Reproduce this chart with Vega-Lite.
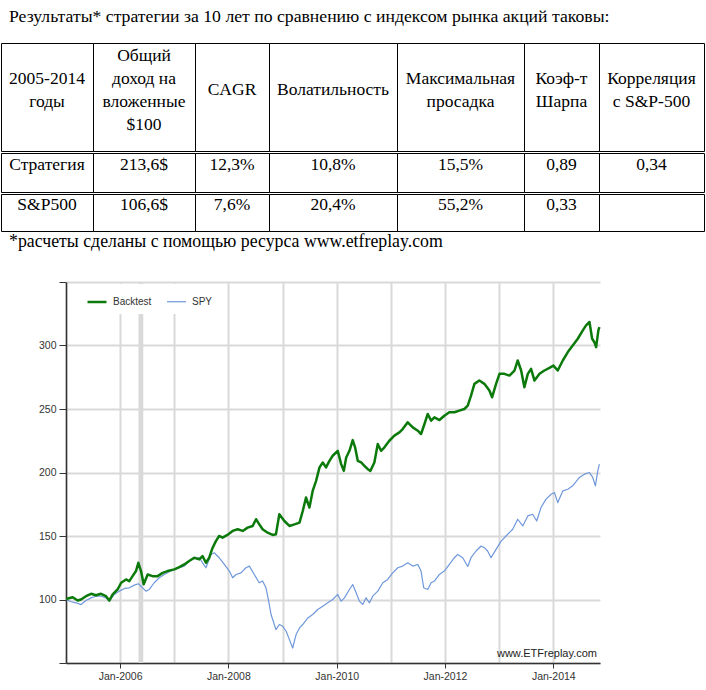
{
  "$schema": "https://vega.github.io/schema/vega-lite/v6.json",
  "padding": {"left": 0, "top": 7, "right": 0, "bottom": 0},
  "background": "white",
  "title": {"text": "Результаты* стратегии за 10 лет по сравнению с индексом рынка акций таковы:", "anchor": "start", "frame": "group", "font": "Liberation Serif", "fontSize": 17.7, "fontWeight": "normal", "color": "#000", "dx": 8, "offset": 17},
  "config": {"view": {"stroke": null}, "font": "Liberation Sans"},
  "resolve": {"scale": {"color": "independent", "strokeWidth": "independent"}, "legend": {"color": "independent", "strokeWidth": "independent"}},
  "datasets": {
    "cells": [
      {"r": 0, "c": 0, "t": "2005-2014\nгоды"},
      {"r": 0, "c": 1, "t": "Общий\nдоход на\nвложенные\n$100"},
      {"r": 0, "c": 2, "t": "CAGR"},
      {"r": 0, "c": 3, "t": "Волатильность"},
      {"r": 0, "c": 4, "t": "Максимальная\nпросадка"},
      {"r": 0, "c": 5, "t": "Коэф-т\nШарпа"},
      {"r": 0, "c": 6, "t": "Корреляция\nс S&P-500"},
      {"r": 1, "c": 0, "t": "Стратегия"},
      {"r": 1, "c": 1, "t": "213,6$"},
      {"r": 1, "c": 2, "t": "12,3%"},
      {"r": 1, "c": 3, "t": "10,8%"},
      {"r": 1, "c": 4, "t": "15,5%"},
      {"r": 1, "c": 5, "t": "0,89"},
      {"r": 1, "c": 6, "t": "0,34"},
      {"r": 2, "c": 0, "t": "S&P500"},
      {"r": 2, "c": 1, "t": "106,6$"},
      {"r": 2, "c": 2, "t": "7,6%"},
      {"r": 2, "c": 3, "t": "20,4%"},
      {"r": 2, "c": 4, "t": "55,2%"},
      {"r": 2, "c": 5, "t": "0,33"},
      {"r": 2, "c": 6, "t": ""}
    ],
    "band": [{"d": "2006-05-05", "d2": "2006-06-06"}],
    "perf": [
      {"d": "2005-01-03", "s": "SPY", "v": 100},
      {"d": "2005-02-04", "s": "SPY", "v": 98.2},
      {"d": "2005-03-10", "s": "SPY", "v": 97.4},
      {"d": "2005-04-12", "s": "SPY", "v": 96},
      {"d": "2005-05-16", "s": "SPY", "v": 99.2},
      {"d": "2005-06-19", "s": "SPY", "v": 101.3},
      {"d": "2005-07-22", "s": "SPY", "v": 102.6},
      {"d": "2005-08-25", "s": "SPY", "v": 102.6},
      {"d": "2005-09-28", "s": "SPY", "v": 101.3},
      {"d": "2005-10-20", "s": "SPY", "v": 98.7},
      {"d": "2005-11-23", "s": "SPY", "v": 104},
      {"d": "2005-12-27", "s": "SPY", "v": 106.6},
      {"d": "2006-01-30", "s": "SPY", "v": 108.7},
      {"d": "2006-03-04", "s": "SPY", "v": 109.2},
      {"d": "2006-04-07", "s": "SPY", "v": 111.3},
      {"d": "2006-05-04", "s": "SPY", "v": 112.4},
      {"d": "2006-06-02", "s": "SPY", "v": 109.2},
      {"d": "2006-06-24", "s": "SPY", "v": 106.6},
      {"d": "2006-07-17", "s": "SPY", "v": 107.9},
      {"d": "2006-08-19", "s": "SPY", "v": 113.2},
      {"d": "2006-09-22", "s": "SPY", "v": 117.1},
      {"d": "2006-10-26", "s": "SPY", "v": 119.7},
      {"d": "2006-11-28", "s": "SPY", "v": 121.8},
      {"d": "2007-01-02", "s": "SPY", "v": 123.7},
      {"d": "2007-02-04", "s": "SPY", "v": 125},
      {"d": "2007-03-10", "s": "SPY", "v": 126.3},
      {"d": "2007-04-12", "s": "SPY", "v": 130.3},
      {"d": "2007-05-16", "s": "SPY", "v": 132.4},
      {"d": "2007-06-19", "s": "SPY", "v": 132.9},
      {"d": "2007-07-11", "s": "SPY", "v": 128.9},
      {"d": "2007-08-03", "s": "SPY", "v": 125},
      {"d": "2007-09-06", "s": "SPY", "v": 135.5},
      {"d": "2007-09-28", "s": "SPY", "v": 136.8},
      {"d": "2007-10-31", "s": "SPY", "v": 132.9},
      {"d": "2007-12-05", "s": "SPY", "v": 127.6},
      {"d": "2008-01-08", "s": "SPY", "v": 122.4},
      {"d": "2008-01-30", "s": "SPY", "v": 117.1},
      {"d": "2008-02-22", "s": "SPY", "v": 119.7},
      {"d": "2008-03-26", "s": "SPY", "v": 121},
      {"d": "2008-04-29", "s": "SPY", "v": 125},
      {"d": "2008-05-22", "s": "SPY", "v": 126.3},
      {"d": "2008-06-24", "s": "SPY", "v": 119.7},
      {"d": "2008-07-28", "s": "SPY", "v": 113.2},
      {"d": "2008-08-19", "s": "SPY", "v": 114.5},
      {"d": "2008-09-11", "s": "SPY", "v": 109.2},
      {"d": "2008-09-29", "s": "SPY", "v": 98.7},
      {"d": "2008-10-15", "s": "SPY", "v": 88.2},
      {"d": "2008-10-30", "s": "SPY", "v": 82.9},
      {"d": "2008-11-17", "s": "SPY", "v": 76.3},
      {"d": "2008-12-10", "s": "SPY", "v": 80.3},
      {"d": "2009-01-02", "s": "SPY", "v": 78.9},
      {"d": "2009-01-25", "s": "SPY", "v": 75},
      {"d": "2009-02-16", "s": "SPY", "v": 68.4},
      {"d": "2009-03-10", "s": "SPY", "v": 61.8},
      {"d": "2009-04-02", "s": "SPY", "v": 72.4},
      {"d": "2009-04-25", "s": "SPY", "v": 77.6},
      {"d": "2009-05-17", "s": "SPY", "v": 80.3},
      {"d": "2009-06-20", "s": "SPY", "v": 85.5},
      {"d": "2009-07-23", "s": "SPY", "v": 88.2},
      {"d": "2009-08-26", "s": "SPY", "v": 92.1},
      {"d": "2009-09-29", "s": "SPY", "v": 94.7},
      {"d": "2009-11-02", "s": "SPY", "v": 97.4},
      {"d": "2009-12-05", "s": "SPY", "v": 100},
      {"d": "2010-01-08", "s": "SPY", "v": 104},
      {"d": "2010-01-31", "s": "SPY", "v": 98.7},
      {"d": "2010-02-22", "s": "SPY", "v": 101.3},
      {"d": "2010-03-28", "s": "SPY", "v": 107.9},
      {"d": "2010-04-19", "s": "SPY", "v": 111.8},
      {"d": "2010-05-12", "s": "SPY", "v": 105.3},
      {"d": "2010-06-03", "s": "SPY", "v": 98.7},
      {"d": "2010-06-26", "s": "SPY", "v": 96.1},
      {"d": "2010-07-18", "s": "SPY", "v": 101.3},
      {"d": "2010-08-10", "s": "SPY", "v": 97.4},
      {"d": "2010-09-01", "s": "SPY", "v": 102.6},
      {"d": "2010-10-05", "s": "SPY", "v": 106.6},
      {"d": "2010-11-08", "s": "SPY", "v": 113.2},
      {"d": "2010-12-11", "s": "SPY", "v": 115.8},
      {"d": "2011-01-14", "s": "SPY", "v": 121},
      {"d": "2011-02-17", "s": "SPY", "v": 125},
      {"d": "2011-03-22", "s": "SPY", "v": 126.3},
      {"d": "2011-04-25", "s": "SPY", "v": 128.9},
      {"d": "2011-05-29", "s": "SPY", "v": 126.3},
      {"d": "2011-07-02", "s": "SPY", "v": 127.6},
      {"d": "2011-07-24", "s": "SPY", "v": 122.4},
      {"d": "2011-08-11", "s": "SPY", "v": 109.2},
      {"d": "2011-09-07", "s": "SPY", "v": 107.9},
      {"d": "2011-09-30", "s": "SPY", "v": 113.2},
      {"d": "2011-10-22", "s": "SPY", "v": 114.5},
      {"d": "2011-11-25", "s": "SPY", "v": 119.7},
      {"d": "2011-12-28", "s": "SPY", "v": 122.4},
      {"d": "2012-01-31", "s": "SPY", "v": 127.6},
      {"d": "2012-03-05", "s": "SPY", "v": 132.9},
      {"d": "2012-03-27", "s": "SPY", "v": 135.5},
      {"d": "2012-04-30", "s": "SPY", "v": 132.9},
      {"d": "2012-06-03", "s": "SPY", "v": 126},
      {"d": "2012-06-25", "s": "SPY", "v": 132.9},
      {"d": "2012-07-29", "s": "SPY", "v": 138.2},
      {"d": "2012-09-01", "s": "SPY", "v": 142.1},
      {"d": "2012-09-23", "s": "SPY", "v": 140.8},
      {"d": "2012-10-15", "s": "SPY", "v": 138.2},
      {"d": "2012-11-07", "s": "SPY", "v": 132.9},
      {"d": "2012-12-11", "s": "SPY", "v": 139.5},
      {"d": "2013-01-14", "s": "SPY", "v": 146},
      {"d": "2013-02-16", "s": "SPY", "v": 150},
      {"d": "2013-04-02", "s": "SPY", "v": 155.3},
      {"d": "2013-05-06", "s": "SPY", "v": 163.2},
      {"d": "2013-06-09", "s": "SPY", "v": 157.9},
      {"d": "2013-07-13", "s": "SPY", "v": 165.8},
      {"d": "2013-08-15", "s": "SPY", "v": 167.1},
      {"d": "2013-09-11", "s": "SPY", "v": 161.8},
      {"d": "2013-10-10", "s": "SPY", "v": 172.4},
      {"d": "2013-11-13", "s": "SPY", "v": 179},
      {"d": "2013-12-17", "s": "SPY", "v": 182.9},
      {"d": "2014-01-09", "s": "SPY", "v": 184.2},
      {"d": "2014-01-31", "s": "SPY", "v": 176.3},
      {"d": "2014-03-06", "s": "SPY", "v": 185.5},
      {"d": "2014-04-09", "s": "SPY", "v": 186.8},
      {"d": "2014-05-12", "s": "SPY", "v": 189.5},
      {"d": "2014-06-26", "s": "SPY", "v": 196.1},
      {"d": "2014-07-30", "s": "SPY", "v": 198.7},
      {"d": "2014-09-02", "s": "SPY", "v": 200},
      {"d": "2014-09-24", "s": "SPY", "v": 196.1},
      {"d": "2014-10-12", "s": "SPY", "v": 189.5},
      {"d": "2014-10-28", "s": "SPY", "v": 201.3},
      {"d": "2014-11-08", "s": "SPY", "v": 206.6},
      {"d": "2005-01-03", "s": "Backtest", "v": 100},
      {"d": "2005-01-13", "s": "Backtest", "v": 100.8},
      {"d": "2005-02-15", "s": "Backtest", "v": 101.8},
      {"d": "2005-03-21", "s": "Backtest", "v": 99.2},
      {"d": "2005-04-12", "s": "Backtest", "v": 100},
      {"d": "2005-05-16", "s": "Backtest", "v": 102.6},
      {"d": "2005-06-19", "s": "Backtest", "v": 104.5},
      {"d": "2005-07-22", "s": "Backtest", "v": 103.4},
      {"d": "2005-08-25", "s": "Backtest", "v": 104.5},
      {"d": "2005-09-28", "s": "Backtest", "v": 102.6},
      {"d": "2005-10-20", "s": "Backtest", "v": 99.2},
      {"d": "2005-11-12", "s": "Backtest", "v": 104},
      {"d": "2005-12-15", "s": "Backtest", "v": 107.9},
      {"d": "2006-01-08", "s": "Backtest", "v": 113.2},
      {"d": "2006-02-10", "s": "Backtest", "v": 115.8},
      {"d": "2006-03-04", "s": "Backtest", "v": 114.5},
      {"d": "2006-03-26", "s": "Backtest", "v": 118.4},
      {"d": "2006-04-18", "s": "Backtest", "v": 122.4},
      {"d": "2006-05-04", "s": "Backtest", "v": 128.9},
      {"d": "2006-05-22", "s": "Backtest", "v": 122.4},
      {"d": "2006-06-09", "s": "Backtest", "v": 112},
      {"d": "2006-07-06", "s": "Backtest", "v": 119.7},
      {"d": "2006-08-08", "s": "Backtest", "v": 118.4},
      {"d": "2006-09-11", "s": "Backtest", "v": 118.4},
      {"d": "2006-10-15", "s": "Backtest", "v": 121},
      {"d": "2006-11-17", "s": "Backtest", "v": 122.4},
      {"d": "2007-01-02", "s": "Backtest", "v": 123.7},
      {"d": "2007-02-04", "s": "Backtest", "v": 125.5},
      {"d": "2007-03-10", "s": "Backtest", "v": 127.6},
      {"d": "2007-04-12", "s": "Backtest", "v": 130.3},
      {"d": "2007-05-16", "s": "Backtest", "v": 132.9},
      {"d": "2007-06-19", "s": "Backtest", "v": 131.6},
      {"d": "2007-07-11", "s": "Backtest", "v": 134.2},
      {"d": "2007-08-03", "s": "Backtest", "v": 128.9},
      {"d": "2007-08-25", "s": "Backtest", "v": 132.9},
      {"d": "2007-09-17", "s": "Backtest", "v": 140.8},
      {"d": "2007-10-09", "s": "Backtest", "v": 146},
      {"d": "2007-10-31", "s": "Backtest", "v": 150},
      {"d": "2007-11-23", "s": "Backtest", "v": 148.7},
      {"d": "2008-01-01", "s": "Backtest", "v": 151.3},
      {"d": "2008-01-30", "s": "Backtest", "v": 154},
      {"d": "2008-03-04", "s": "Backtest", "v": 155.3},
      {"d": "2008-04-07", "s": "Backtest", "v": 154},
      {"d": "2008-05-10", "s": "Backtest", "v": 156.6},
      {"d": "2008-06-13", "s": "Backtest", "v": 157.9},
      {"d": "2008-07-06", "s": "Backtest", "v": 163.2},
      {"d": "2008-07-28", "s": "Backtest", "v": 159.2},
      {"d": "2008-08-19", "s": "Backtest", "v": 155.3},
      {"d": "2008-09-22", "s": "Backtest", "v": 152.6},
      {"d": "2008-10-26", "s": "Backtest", "v": 150.8},
      {"d": "2008-11-17", "s": "Backtest", "v": 151.3},
      {"d": "2008-12-10", "s": "Backtest", "v": 167.1},
      {"d": "2009-01-13", "s": "Backtest", "v": 161.8},
      {"d": "2009-02-16", "s": "Backtest", "v": 157.9},
      {"d": "2009-03-22", "s": "Backtest", "v": 159.2},
      {"d": "2009-04-25", "s": "Backtest", "v": 160.5},
      {"d": "2009-05-17", "s": "Backtest", "v": 169.7},
      {"d": "2009-06-08", "s": "Backtest", "v": 180.3},
      {"d": "2009-07-01", "s": "Backtest", "v": 172.4},
      {"d": "2009-07-23", "s": "Backtest", "v": 185.5},
      {"d": "2009-08-15", "s": "Backtest", "v": 193.4},
      {"d": "2009-09-07", "s": "Backtest", "v": 204},
      {"d": "2009-09-29", "s": "Backtest", "v": 207.9},
      {"d": "2009-10-21", "s": "Backtest", "v": 204},
      {"d": "2009-11-13", "s": "Backtest", "v": 209.2},
      {"d": "2009-12-05", "s": "Backtest", "v": 213.2},
      {"d": "2010-01-08", "s": "Backtest", "v": 217.1},
      {"d": "2010-01-31", "s": "Backtest", "v": 206.6},
      {"d": "2010-02-18", "s": "Backtest", "v": 201.3},
      {"d": "2010-03-06", "s": "Backtest", "v": 211.8},
      {"d": "2010-03-28", "s": "Backtest", "v": 217.1},
      {"d": "2010-04-19", "s": "Backtest", "v": 225.5},
      {"d": "2010-05-05", "s": "Backtest", "v": 219.8},
      {"d": "2010-05-23", "s": "Backtest", "v": 209.2},
      {"d": "2010-06-15", "s": "Backtest", "v": 207.9},
      {"d": "2010-07-07", "s": "Backtest", "v": 205.3},
      {"d": "2010-07-30", "s": "Backtest", "v": 202.6},
      {"d": "2010-08-16", "s": "Backtest", "v": 201.3},
      {"d": "2010-09-12", "s": "Backtest", "v": 207.9},
      {"d": "2010-10-05", "s": "Backtest", "v": 222.4},
      {"d": "2010-10-27", "s": "Backtest", "v": 217.1},
      {"d": "2010-11-19", "s": "Backtest", "v": 219.8},
      {"d": "2010-12-22", "s": "Backtest", "v": 225},
      {"d": "2011-01-25", "s": "Backtest", "v": 229},
      {"d": "2011-02-28", "s": "Backtest", "v": 231.6},
      {"d": "2011-03-22", "s": "Backtest", "v": 234.2},
      {"d": "2011-04-25", "s": "Backtest", "v": 239.5},
      {"d": "2011-05-29", "s": "Backtest", "v": 235.5},
      {"d": "2011-07-02", "s": "Backtest", "v": 232.9},
      {"d": "2011-07-24", "s": "Backtest", "v": 230.3},
      {"d": "2011-08-16", "s": "Backtest", "v": 238.2},
      {"d": "2011-09-07", "s": "Backtest", "v": 246.1},
      {"d": "2011-09-30", "s": "Backtest", "v": 240.8},
      {"d": "2011-10-22", "s": "Backtest", "v": 243.4},
      {"d": "2011-11-25", "s": "Backtest", "v": 241.3},
      {"d": "2011-12-28", "s": "Backtest", "v": 244.7},
      {"d": "2012-01-31", "s": "Backtest", "v": 247.4},
      {"d": "2012-03-05", "s": "Backtest", "v": 247.4},
      {"d": "2012-04-07", "s": "Backtest", "v": 248.7},
      {"d": "2012-05-11", "s": "Backtest", "v": 250},
      {"d": "2012-06-03", "s": "Backtest", "v": 252.6},
      {"d": "2012-06-25", "s": "Backtest", "v": 260.5},
      {"d": "2012-07-18", "s": "Backtest", "v": 269.8},
      {"d": "2012-08-20", "s": "Backtest", "v": 272.4},
      {"d": "2012-09-23", "s": "Backtest", "v": 269.8},
      {"d": "2012-10-27", "s": "Backtest", "v": 264.5},
      {"d": "2012-11-14", "s": "Backtest", "v": 259.2},
      {"d": "2012-12-11", "s": "Backtest", "v": 269.8},
      {"d": "2013-01-03", "s": "Backtest", "v": 277.7},
      {"d": "2013-02-05", "s": "Backtest", "v": 277.7},
      {"d": "2013-03-11", "s": "Backtest", "v": 276.3},
      {"d": "2013-04-14", "s": "Backtest", "v": 280.3},
      {"d": "2013-05-06", "s": "Backtest", "v": 288.2},
      {"d": "2013-05-29", "s": "Backtest", "v": 280.3},
      {"d": "2013-06-20", "s": "Backtest", "v": 267.1},
      {"d": "2013-07-13", "s": "Backtest", "v": 277.7},
      {"d": "2013-08-04", "s": "Backtest", "v": 281.6},
      {"d": "2013-08-27", "s": "Backtest", "v": 272.4},
      {"d": "2013-09-30", "s": "Backtest", "v": 277.7},
      {"d": "2013-11-02", "s": "Backtest", "v": 280.3},
      {"d": "2013-12-06", "s": "Backtest", "v": 282.4},
      {"d": "2014-01-02", "s": "Backtest", "v": 284.2},
      {"d": "2014-01-31", "s": "Backtest", "v": 280.3},
      {"d": "2014-03-06", "s": "Backtest", "v": 288.2},
      {"d": "2014-04-09", "s": "Backtest", "v": 294.8},
      {"d": "2014-05-12", "s": "Backtest", "v": 300},
      {"d": "2014-06-15", "s": "Backtest", "v": 305.3},
      {"d": "2014-07-19", "s": "Backtest", "v": 311.9},
      {"d": "2014-08-10", "s": "Backtest", "v": 315.8},
      {"d": "2014-09-02", "s": "Backtest", "v": 318.5},
      {"d": "2014-09-20", "s": "Backtest", "v": 305.3},
      {"d": "2014-10-05", "s": "Backtest", "v": 302.6},
      {"d": "2014-10-17", "s": "Backtest", "v": 298.7},
      {"d": "2014-11-01", "s": "Backtest", "v": 311.9},
      {"d": "2014-11-08", "s": "Backtest", "v": 314.5}
    ]
  },
  "spacing": 0,
  "vconcat": [
    {
      "spacing": 0,
      "bounds": "flush",
      "hconcat": [
        {"width": 92, "height": 108, "view": {"stroke": "#000"}, "data": {"name": "cells"}, "transform": [{"filter": "datum.r == 0 && datum.c == 0"}], "mark": {"type": "text", "font": "Liberation Serif", "fontSize": 17.5, "color": "#000", "lineBreak": "\n", "lineHeight": 23, "dy": -18.5}, "encoding": {"text": {"field": "t", "type": "nominal"}}},
        {"width": 102, "height": 108, "view": {"stroke": "#000"}, "data": {"name": "cells"}, "transform": [{"filter": "datum.r == 0 && datum.c == 1"}], "mark": {"type": "text", "font": "Liberation Serif", "fontSize": 17.5, "color": "#000", "lineBreak": "\n", "lineHeight": 23, "dy": -41.5}, "encoding": {"text": {"field": "t", "type": "nominal"}}},
        {"width": 74, "height": 108, "view": {"stroke": "#000"}, "data": {"name": "cells"}, "transform": [{"filter": "datum.r == 0 && datum.c == 2"}], "mark": {"type": "text", "font": "Liberation Serif", "fontSize": 17.5, "color": "#000", "lineBreak": "\n", "lineHeight": 23, "dy": -7}, "encoding": {"text": {"field": "t", "type": "nominal"}}},
        {"width": 128, "height": 108, "view": {"stroke": "#000"}, "data": {"name": "cells"}, "transform": [{"filter": "datum.r == 0 && datum.c == 3"}], "mark": {"type": "text", "font": "Liberation Serif", "fontSize": 17.5, "color": "#000", "lineBreak": "\n", "lineHeight": 23, "dy": -7}, "encoding": {"text": {"field": "t", "type": "nominal"}}},
        {"width": 127, "height": 108, "view": {"stroke": "#000"}, "data": {"name": "cells"}, "transform": [{"filter": "datum.r == 0 && datum.c == 4"}], "mark": {"type": "text", "font": "Liberation Serif", "fontSize": 17.5, "color": "#000", "lineBreak": "\n", "lineHeight": 23, "dy": -18.5}, "encoding": {"text": {"field": "t", "type": "nominal"}}},
        {"width": 75, "height": 108, "view": {"stroke": "#000"}, "data": {"name": "cells"}, "transform": [{"filter": "datum.r == 0 && datum.c == 5"}], "mark": {"type": "text", "font": "Liberation Serif", "fontSize": 17.5, "color": "#000", "lineBreak": "\n", "lineHeight": 23, "dy": -18.5}, "encoding": {"text": {"field": "t", "type": "nominal"}}},
        {"width": 105, "height": 108, "view": {"stroke": "#000"}, "data": {"name": "cells"}, "transform": [{"filter": "datum.r == 0 && datum.c == 6"}], "mark": {"type": "text", "font": "Liberation Serif", "fontSize": 17.5, "color": "#000", "lineBreak": "\n", "lineHeight": 23, "dy": -18.5}, "encoding": {"text": {"field": "t", "type": "nominal"}}}
      ]
    },
    {
      "spacing": 0,
      "bounds": "flush",
      "hconcat": [
        {"width": 92, "height": 39, "view": {"stroke": "#000"}, "data": {"name": "cells"}, "transform": [{"filter": "datum.r == 1 && datum.c == 0"}], "mark": {"type": "text", "font": "Liberation Serif", "fontSize": 17.5, "color": "#000", "dy": -8}, "encoding": {"text": {"field": "t", "type": "nominal"}}},
        {"width": 102, "height": 39, "view": {"stroke": "#000"}, "data": {"name": "cells"}, "transform": [{"filter": "datum.r == 1 && datum.c == 1"}], "mark": {"type": "text", "font": "Liberation Serif", "fontSize": 17.5, "color": "#000", "dy": -8}, "encoding": {"text": {"field": "t", "type": "nominal"}}},
        {"width": 74, "height": 39, "view": {"stroke": "#000"}, "data": {"name": "cells"}, "transform": [{"filter": "datum.r == 1 && datum.c == 2"}], "mark": {"type": "text", "font": "Liberation Serif", "fontSize": 17.5, "color": "#000", "dy": -8}, "encoding": {"text": {"field": "t", "type": "nominal"}}},
        {"width": 128, "height": 39, "view": {"stroke": "#000"}, "data": {"name": "cells"}, "transform": [{"filter": "datum.r == 1 && datum.c == 3"}], "mark": {"type": "text", "font": "Liberation Serif", "fontSize": 17.5, "color": "#000", "dy": -8}, "encoding": {"text": {"field": "t", "type": "nominal"}}},
        {"width": 127, "height": 39, "view": {"stroke": "#000"}, "data": {"name": "cells"}, "transform": [{"filter": "datum.r == 1 && datum.c == 4"}], "mark": {"type": "text", "font": "Liberation Serif", "fontSize": 17.5, "color": "#000", "dy": -8}, "encoding": {"text": {"field": "t", "type": "nominal"}}},
        {"width": 75, "height": 39, "view": {"stroke": "#000"}, "data": {"name": "cells"}, "transform": [{"filter": "datum.r == 1 && datum.c == 5"}], "mark": {"type": "text", "font": "Liberation Serif", "fontSize": 17.5, "color": "#000", "dy": -8}, "encoding": {"text": {"field": "t", "type": "nominal"}}},
        {"width": 105, "height": 39, "view": {"stroke": "#000"}, "data": {"name": "cells"}, "transform": [{"filter": "datum.r == 1 && datum.c == 6"}], "mark": {"type": "text", "font": "Liberation Serif", "fontSize": 17.5, "color": "#000", "dy": -8}, "encoding": {"text": {"field": "t", "type": "nominal"}}}
      ]
    },
    {
      "spacing": 0,
      "bounds": "flush",
      "hconcat": [
        {"width": 92, "height": 37, "view": {"stroke": "#000"}, "data": {"name": "cells"}, "transform": [{"filter": "datum.r == 2 && datum.c == 0"}], "mark": {"type": "text", "font": "Liberation Serif", "fontSize": 17.5, "color": "#000", "dy": -8}, "encoding": {"text": {"field": "t", "type": "nominal"}}},
        {"width": 102, "height": 37, "view": {"stroke": "#000"}, "data": {"name": "cells"}, "transform": [{"filter": "datum.r == 2 && datum.c == 1"}], "mark": {"type": "text", "font": "Liberation Serif", "fontSize": 17.5, "color": "#000", "dy": -8}, "encoding": {"text": {"field": "t", "type": "nominal"}}},
        {"width": 74, "height": 37, "view": {"stroke": "#000"}, "data": {"name": "cells"}, "transform": [{"filter": "datum.r == 2 && datum.c == 2"}], "mark": {"type": "text", "font": "Liberation Serif", "fontSize": 17.5, "color": "#000", "dy": -8}, "encoding": {"text": {"field": "t", "type": "nominal"}}},
        {"width": 128, "height": 37, "view": {"stroke": "#000"}, "data": {"name": "cells"}, "transform": [{"filter": "datum.r == 2 && datum.c == 3"}], "mark": {"type": "text", "font": "Liberation Serif", "fontSize": 17.5, "color": "#000", "dy": -8}, "encoding": {"text": {"field": "t", "type": "nominal"}}},
        {"width": 127, "height": 37, "view": {"stroke": "#000"}, "data": {"name": "cells"}, "transform": [{"filter": "datum.r == 2 && datum.c == 4"}], "mark": {"type": "text", "font": "Liberation Serif", "fontSize": 17.5, "color": "#000", "dy": -8}, "encoding": {"text": {"field": "t", "type": "nominal"}}},
        {"width": 75, "height": 37, "view": {"stroke": "#000"}, "data": {"name": "cells"}, "transform": [{"filter": "datum.r == 2 && datum.c == 5"}], "mark": {"type": "text", "font": "Liberation Serif", "fontSize": 17.5, "color": "#000", "dy": -8}, "encoding": {"text": {"field": "t", "type": "nominal"}}},
        {"width": 105, "height": 37, "view": {"stroke": "#000"}, "data": {"name": "cells"}, "transform": [{"filter": "datum.r == 2 && datum.c == 6"}], "mark": {"type": "text", "font": "Liberation Serif", "fontSize": 17.5, "color": "#000", "dy": -8}, "encoding": {"text": {"field": "t", "type": "nominal"}}}
      ]
    },
    {
      "title": {"text": "*расчеты сделаны с помощью ресурса www.etfreplay.com", "anchor": "start", "frame": "group", "font": "Liberation Serif", "fontSize": 17.8, "fontWeight": "normal", "color": "#000", "dx": 8, "offset": 31},
      "spacing": 0,
      "bounds": "flush",
      "resolve": {"scale": {"color": "independent", "strokeWidth": "independent"}, "legend": {"color": "independent", "strokeWidth": "independent"}},
      "hconcat": [
        {"width": 65, "height": 381, "data": {"values": [{"t": ""}]}, "mark": {"type": "text"}, "encoding": {"text": {"field": "t", "type": "nominal"}}},
        {
          "width": 534,
          "height": 381,
          "encoding": {
            "x": {
              "field": "d", "type": "temporal",
              "scale": {"type": "utc", "domain": [{"year": 2005, "month": 1, "date": 1, "utc": true}, {"year": 2014, "month": 11, "date": 12, "utc": true}]},
              "axis": {
                "title": null,
                "values": [
                  {"year": 2005, "month": 1, "date": 1, "utc": true},
                  {"year": 2006, "month": 1, "date": 1, "utc": true},
                  {"year": 2007, "month": 1, "date": 1, "utc": true},
                  {"year": 2008, "month": 1, "date": 1, "utc": true},
                  {"year": 2009, "month": 1, "date": 1, "utc": true},
                  {"year": 2010, "month": 1, "date": 1, "utc": true},
                  {"year": 2011, "month": 1, "date": 1, "utc": true},
                  {"year": 2012, "month": 1, "date": 1, "utc": true},
                  {"year": 2013, "month": 1, "date": 1, "utc": true},
                  {"year": 2014, "month": 1, "date": 1, "utc": true}
                ],
                "labelExpr": "utcyear(datum.value) % 2 == 0 ? utcFormat(datum.value, '%b-%Y') : ''",
                "tickOpacity": {"condition": {"test": "utcyear(datum.value) % 2 == 0", "value": 1}, "value": 0},
                "labelOverlap": false,
                "labelFlush": false,
                "grid": true,
                "gridColor": "#d9d9d9",
                "gridWidth": 2,
                "domainColor": "#333333",
                "domainWidth": 1.5,
                "tickColor": "#333333",
                "tickSize": 5,
                "labelFont": "Liberation Sans",
                "labelFontSize": 10.5,
                "labelColor": "#333333",
                "labelPadding": 3
              }
            }
          },
          "layer": [
            {
              "data": {"name": "band"},
              "mark": {"type": "rect", "color": "#d9d9d9"},
              "encoding": {"x2": {"field": "d2"}}
            },
            {
              "data": {"name": "perf"},
              "mark": {"type": "line", "strokeJoin": "round"},
              "encoding": {
                "y": {
                  "field": "v", "type": "quantitative",
                  "scale": {"domain": [50, 350], "nice": false, "zero": false},
                  "axis": {
                    "title": null,
                    "values": [50, 100, 150, 200, 250, 300, 350],
                    "labelExpr": "datum.value == 50 || datum.value == 350 ? '' : datum.label",
                    "grid": true,
                    "gridColor": "#d9d9d9",
                    "gridWidth": 2,
                    "domainColor": "#333333",
                    "domainWidth": 1.5,
                    "tickColor": "#333333",
                    "tickSize": 7,
                    "labelFont": "Liberation Sans",
                    "labelFontSize": 10.5,
                    "labelColor": "#333333",
                    "labelPadding": 3
                  }
                },
                "color": {
                  "field": "s", "type": "nominal",
                  "scale": {"domain": ["Backtest", "SPY"], "range": ["#0b7a0b", "#6f98db"]},
                  "legend": {
                    "title": null, "orient": "none", "legendX": 13, "legendY": 2,
                    "direction": "horizontal", "symbolType": "stroke", "symbolSize": 361,
                    "symbolStrokeWidth": 2.5, "labelFont": "Liberation Sans", "labelFontSize": 10,
                    "labelColor": "#333333", "fillColor": "white", "padding": 7,
                    "columnPadding": 12, "labelOffset": 5
                  }
                },
                "strokeWidth": {
                  "field": "s", "type": "nominal",
                  "scale": {"domain": ["Backtest", "SPY"], "range": [2.5, 1.2]},
                  "legend": null
                }
              }
            },
            {
              "data": {"values": [{"t": "www.ETFreplay.com"}]},
              "mark": {"type": "text", "align": "right", "baseline": "bottom", "dx": -3, "dy": -4, "font": "Liberation Sans", "fontSize": 11, "color": "#222222"},
              "encoding": {"x": {"value": "width"}, "y": {"value": "height"}, "text": {"field": "t", "type": "nominal"}}
            }
          ]
        }
      ]
    }
  ]
}
